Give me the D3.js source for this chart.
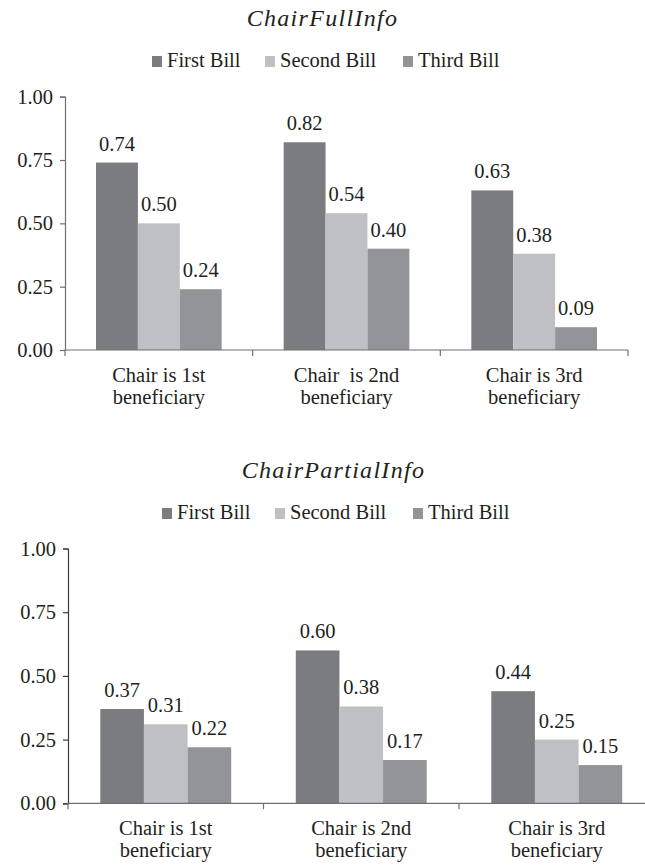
<!DOCTYPE html>
<html>
<head>
<meta charset="utf-8">
<script src="https://cdn.jsdelivr.net/npm/d3@7"></script>
</head>
<body style="margin:0;padding:0;background:#fff">
<svg id="chart" width="645" height="865" style="display:block"></svg>
<script>
// ---- data ----
const series = ["First Bill", "Second Bill", "Third Bill"];
const seriesColors = ["#7b7c80", "#bfc0c3", "#939498"];
const yTicks = [0, 0.25, 0.5, 0.75, 1.0];

const fullTitle = "ChairFullInfo";
const fullCats = ["Chair is 1st\nbeneficiary", "Chair  is 2nd\nbeneficiary", "Chair is 3rd\nbeneficiary"];
const fullFirst  = [0.74, 0.82, 0.63];
const fullSecond = [0.50, 0.54, 0.38];
const fullThird  = [0.24, 0.40, 0.09];

const partialTitle = "ChairPartialInfo";
const partialCats = ["Chair is 1st\nbeneficiary", "Chair is 2nd\nbeneficiary", "Chair is 3rd\nbeneficiary"];
const partialFirst  = [0.37, 0.60, 0.44];
const partialSecond = [0.31, 0.38, 0.25];
const partialThird  = [0.22, 0.17, 0.15];

const FONT = '"Liberation Serif"';
const TXT = "#231f20";
const svg = d3.select("#chart");

function drawPanel(cfg) {
  const { title, cats, values, left, right, top, bottom, titleX, titleY, legendX, legendY, axisColor, yAxisColor } = cfg;
  const g = svg.append("g");

  // title
  g.append("text")
    .attr("x", titleX).attr("y", titleY)
    .attr("text-anchor", "middle")
    .style("font-style", "italic")
    .style("font-size", "24px")
    .style("letter-spacing", "1.3px")
    .text(title);

  // legend
  const legendOffsets = [0, 113, 251];
  const lg = g.append("g").attr("transform", `translate(${legendX},${legendY})`);
  series.forEach((s, i) => {
    const item = lg.append("g").attr("transform", `translate(${legendOffsets[i]},0)`);
    item.append("rect").attr("x", 0).attr("y", -11).attr("width", 10).attr("height", 11)
      .attr("fill", seriesColors[i]);
    item.append("text").attr("x", 15).attr("y", 0)
      .style("font-size", "20.5px").text(s);
  });

  const y = d3.scaleLinear().domain([0, 1]).range([bottom, top]);
  const x0 = d3.scaleBand().domain(cats).range([left, right]).paddingInner(0).paddingOuter(0);
  const x1 = d3.scaleBand().domain(series).range([0, x0.bandwidth()]).paddingInner(0).paddingOuter(0.74);

  // bars
  const rows = cats.map((c, ci) => ({ cat: c, vals: series.map((s, si) => ({ s, si, v: values[si][ci] })) }));
  const grp = g.selectAll("g.grp").data(rows).join("g")
    .attr("class", "grp")
    .attr("transform", d => `translate(${x0(d.cat)},0)`);
  grp.selectAll("rect").data(d => d.vals).join("rect")
    .attr("x", d => x1(d.s))
    .attr("y", d => y(d.v))
    .attr("width", x1.bandwidth())
    .attr("height", d => y(0) - y(d.v))
    .attr("fill", d => seriesColors[d.si]);
  grp.selectAll("text.val").data(d => d.vals).join("text")
    .attr("class", "val")
    .attr("x", d => x1(d.s) + x1.bandwidth() / 2)
    .attr("y", d => y(d.v) - 12)
    .attr("text-anchor", "middle")
    .style("font-size", "20.5px")
    .text(d => d3.format(".2f")(d.v));

  // y axis
  const yAxis = g.append("g").attr("transform", `translate(${left},0)`)
    .call(d3.axisLeft(y).tickValues(yTicks).tickFormat(d3.format(".2f")).tickSize(5).tickSizeOuter(5).tickPadding(7));
  yAxis.attr("font-family", null).attr("font-size", null);
  yAxis.selectAll("path, line").attr("stroke", yAxisColor).attr("stroke-width", 1.2);
  yAxis.selectAll("text").style("font-size", "20.5px");

  // x axis (ticks at category boundaries)
  const xg = g.append("g");
  xg.append("line").attr("x1", left).attr("x2", right).attr("y1", y(0)).attr("y2", y(0))
    .attr("stroke", axisColor).attr("stroke-width", 1.2);
  const bounds = cats.map(c => x0(c)).concat([x0.range()[1]]);
  xg.selectAll("line.tk").data(bounds).join("line").attr("class", "tk")
    .attr("x1", d => d).attr("x2", d => d).attr("y1", y(0)).attr("y2", y(0) + 6)
    .attr("stroke", axisColor).attr("stroke-width", 1.2);

  // category labels
  const cl = xg.selectAll("text.cat").data(cats).join("text").attr("class", "cat")
    .attr("text-anchor", "middle")
    .style("font-size", "20.5px")
    .style("white-space", "pre");
  cl.selectAll("tspan").data(d => d.split("\n").map((t, i) => ({ t, i, c: d }))).join("tspan")
    .attr("x", d => x0(d.c) + x0.bandwidth() / 2)
    .attr("y", d => y(0) + 32 + d.i * 22)
    .text(d => d.t);
}

drawPanel({
  title: fullTitle, cats: fullCats, values: [fullFirst, fullSecond, fullThird],
  left: 65, right: 628, top: 96.7, bottom: 350,
  titleX: 322.5, titleY: 26, legendX: 152, legendY: 67,
  axisColor: "#6f6f6f", yAxisColor: "#6f6f6f"
});

drawPanel({
  title: partialTitle, cats: partialCats, values: [partialFirst, partialSecond, partialThird],
  left: 68, right: 654.5, top: 548.5, bottom: 803.3,
  titleX: 333.5, titleY: 478, legendX: 162, legendY: 519,
  axisColor: "#6f6f6f", yAxisColor: "#3a3a3a"
});

svg.selectAll("text").style("font-family", FONT).attr("fill", TXT);
</script>
</body>
</html>
